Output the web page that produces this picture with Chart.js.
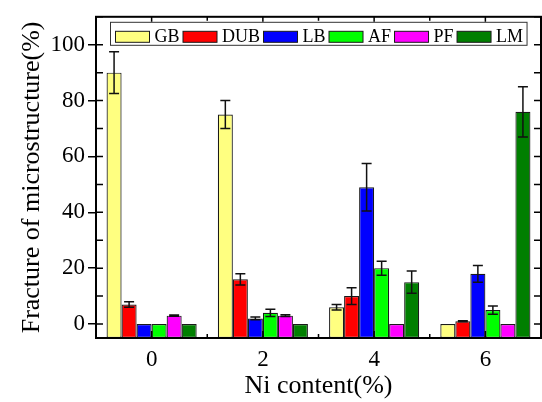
<!DOCTYPE html>
<html><head><meta charset="utf-8">
<script src="https://cdn.jsdelivr.net/npm/chart.js@4.4.1/dist/chart.umd.min.js"></script>
<style>html,body{margin:0;padding:0;background:#fff}#wrap{width:542px;height:402px;position:relative}</style>
</head><body><div id="wrap"><canvas id="c" width="542" height="402"></canvas></div>
<script>
const categories = ['0', '2', '4', '6'];
const seriesNames = ['GB', 'DUB', 'LB', 'AF', 'PF', 'LM'];
const GB  = [90, 75, 6, 0];
const DUB = [7, 16, 10, 1];
const LB  = [0, 2, 49, 18];
const AF  = [0, 4, 20, 5];
const PF  = [3, 3, 0, 0];
const LM  = [0, 0, 15, 76];
const GB_err  = [7.5, 5, 1, 0];
const DUB_err = [1, 2, 3, 0.2];
const LB_err  = [0, 0.5, 8.5, 3];
const AF_err  = [0, 1.3, 2.5, 1.5];
const PF_err  = [0.2, 0.3, 0, 0];
const LM_err  = [0, 0, 4, 9];
const yTicks = [0, 20, 40, 60, 80, 100];
const xTitle = 'Ni content(%)';
const yTitle = 'Fracture of microstructure(%)';

const seriesValues = [GB, DUB, LB, AF, PF, LM];
const seriesErrors = [GB_err, DUB_err, LB_err, AF_err, PF_err, LM_err];
const colors = ['#FFFF80', '#FF0000', '#0000FF', '#00FF00', '#FF00FF', '#007F00'];
const SERIF = '"Liberation Serif", "Times New Roman", serif';

const datasets = seriesNames.map((n, i) => ({
  label: n,
  data: seriesValues[i],
  errors: seriesErrors[i],
  backgroundColor: colors[i],
  borderColor: '#1a1a1a',
  borderWidth: 1.2,
  borderSkipped: false,
  base: -5
}));

const frameAndTicks = {
  id: 'frameAndTicks',
  afterDatasetsDraw(chart) {
    const {ctx, chartArea: a, scales: {x, y}} = chart;
    ctx.save();
    // error bars
    ctx.strokeStyle = '#111';
    ctx.lineWidth = 1.5;
    chart.data.datasets.forEach((ds, di) => {
      const meta = chart.getDatasetMeta(di);
      meta.data.forEach((bar, i) => {
        const e = ds.errors[i];
        if (!e) return;
        const v = ds.data[i];
        const y1 = y.getPixelForValue(v + e), y2 = y.getPixelForValue(v - e);
        const cx = bar.x, hw = 5;
        ctx.beginPath();
        ctx.moveTo(cx, y1); ctx.lineTo(cx, y2);
        ctx.moveTo(cx - hw, y1); ctx.lineTo(cx + hw, y1);
        ctx.moveTo(cx - hw, y2); ctx.lineTo(cx + hw, y2);
        ctx.stroke();
      });
    });
    // inward ticks
    ctx.strokeStyle = '#000';
    ctx.lineWidth = 1.5;
    ctx.beginPath();
    for (let v = 0; v <= y.max; v += 10) {
      const py = y.getPixelForValue(v);
      ctx.moveTo(a.left, py); ctx.lineTo(a.left + 7, py);
      ctx.moveTo(a.right, py); ctx.lineTo(a.right - 7, py);
    }
    categories.forEach((c, i) => {
      const px = x.getPixelForValue(i);
      ctx.moveTo(px, a.bottom); ctx.lineTo(px, a.bottom - 7);
      ctx.moveTo(px, a.top); ctx.lineTo(px, a.top + 7);
      if (i > 0) {
        const pb = x.getPixelForValue(i - 0.5);
        ctx.moveTo(pb, a.bottom); ctx.lineTo(pb, a.bottom - 4);
        ctx.moveTo(pb, a.top); ctx.lineTo(pb, a.top + 4);
      }
    });
    ctx.stroke();
    // frame
    ctx.lineWidth = 2;
    ctx.strokeRect(a.left, a.top, a.right - a.left, a.bottom - a.top);
    // legend
    ctx.font = '18px ' + SERIF;
    ctx.textBaseline = 'alphabetic';
    const lx = a.left + 14, ly = a.top + 5, lh = 23;
    let cx = lx + 5.5;
    const items = chart.data.datasets.map(ds => ({t: ds.label, c: ds.backgroundColor, w: ctx.measureText(ds.label).width}));
    let total = 5.5;
    items.forEach(it => { total += 34 + 5 + it.w + 3.5; });
    ctx.fillStyle = '#fff';
    ctx.fillRect(lx, ly, total, lh);
    ctx.strokeStyle = '#333';
    ctx.lineWidth = 1;
    ctx.strokeRect(lx + 0.5, ly + 0.5, total, lh);
    items.forEach(it => {
      ctx.fillStyle = it.c;
      ctx.fillRect(cx, ly + 9.5, 34, 11);
      ctx.strokeStyle = '#1a1a1a';
      ctx.lineWidth = 1;
      ctx.strokeRect(cx, ly + 9.5, 34, 11);
      ctx.fillStyle = '#000';
      ctx.fillText(it.t, cx + 39, ly + 20.5);
      cx += 34 + 5 + it.w + 3.5;
    });
    ctx.restore();
  }
};

new Chart(document.getElementById('c'), {
  type: 'bar',
  data: {labels: categories, datasets},
  options: {
    responsive: false,
    animation: false,
    layout: {padding: {top: 7, right: 1, left: 0, bottom: 0}},
    datasets: {bar: {categoryPercentage: 0.81, barPercentage: 1.0}},
    plugins: {legend: {display: false}, tooltip: {enabled: false}},
    scales: {
      x: {
        offset: true,
        grid: {display: false, drawTicks: false},
        border: {display: false},
        ticks: {color: '#000', font: {family: SERIF, size: 23}, padding: 8},
        title: {display: true, text: xTitle, color: '#000', font: {family: SERIF, size: 26}, padding: {top: 0, bottom: 0}},
        afterFit(s) { s.height = 64; }
      },
      y: {
        min: -5, max: 110,
        grid: {drawOnChartArea: false, drawTicks: true, tickLength: 8, color: '#000', lineWidth: 1.5},
        border: {display: false},
        ticks: {
          color: '#000', font: {family: SERIF, size: 23}, padding: 3,
          stepSize: 20, includeBounds: false,
          callback: (v) => yTicks.includes(v) ? String(v) : null
        },
        afterBuildTicks(s) { s.ticks = yTicks.map(v => ({value: v})); },
        title: {display: true, text: yTitle, color: '#000', font: {family: SERIF, size: 26}, padding: {top: 17, bottom: 0}},
        afterFit(s) { s.width = 96; }
      }
    }
  },
  plugins: [frameAndTicks]
});
</script></body></html>
